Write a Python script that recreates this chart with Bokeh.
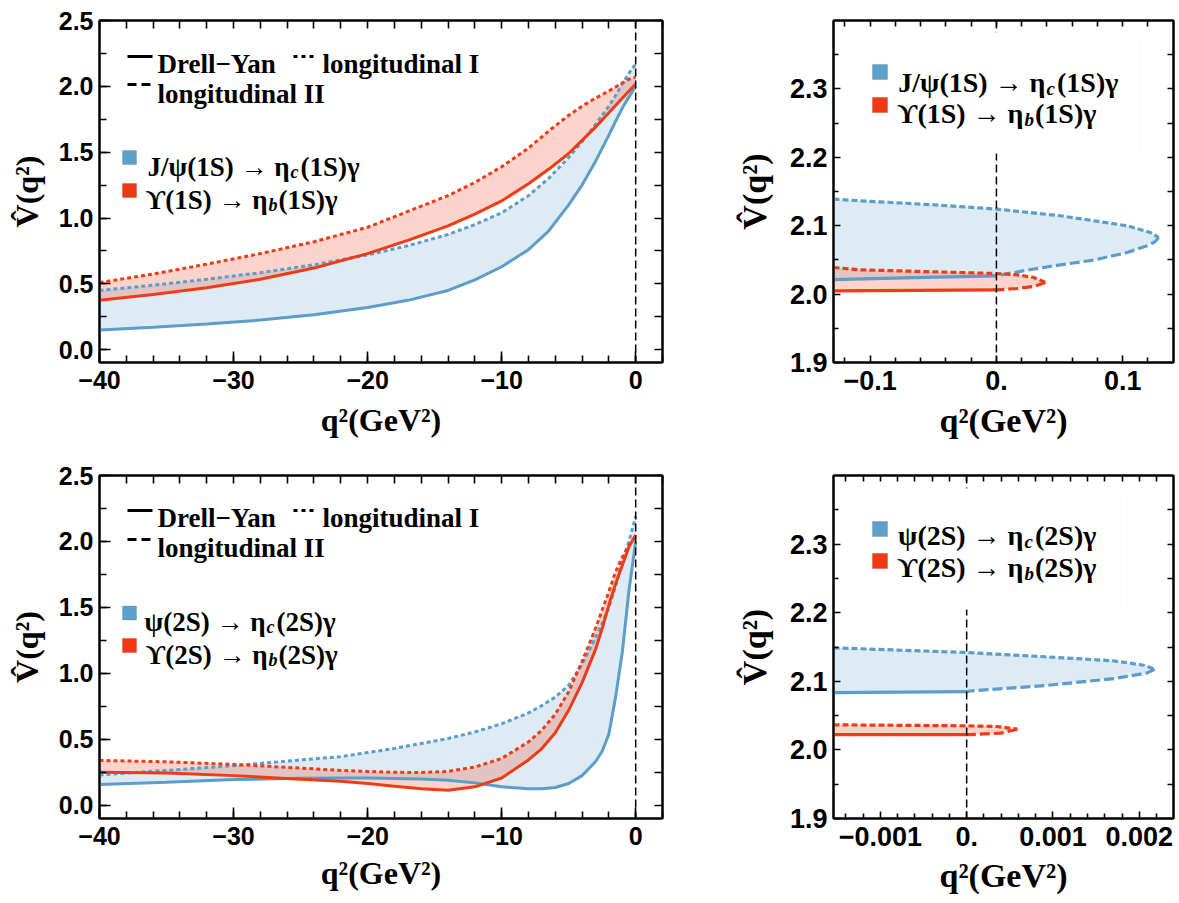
from bokeh.plotting import figure
from bokeh.models import (Range1d, FixedTicker, LinearAxis, Span, Label,
                          BoxAnnotation, Arrow)
from bokeh.layouts import row, column
from bokeh.embed import file_html
from bokeh.resources import INLINE

# ---------------- data ----------------
# 1S, wide range
q_1S = [-40, -36, -32, -28, -24, -20, -17, -14, -12, -10, -8, -6.5, -5, -4, -3, -2, -1.5, -1, -0.5, 0]
jpsi_dy_1S = [0.15, 0.17, 0.195, 0.225, 0.265, 0.32, 0.375, 0.45, 0.53, 0.63, 0.76, 0.90, 1.10, 1.25, 1.43, 1.63, 1.735, 1.835, 1.92, 2.00]
jpsi_l1_1S = [0.45, 0.49, 0.535, 0.585, 0.645, 0.72, 0.79, 0.875, 0.95, 1.04, 1.17, 1.30, 1.46, 1.58, 1.71, 1.85, 1.93, 2.02, 2.10, 2.17]
ups_dy_1S = [0.375, 0.42, 0.47, 0.535, 0.62, 0.73, 0.83, 0.94, 1.03, 1.13, 1.26, 1.37, 1.49, 1.59, 1.69, 1.80, 1.855, 1.91, 1.965, 2.02]
ups_l1_1S = [0.51, 0.575, 0.65, 0.73, 0.82, 0.93, 1.05, 1.17, 1.27, 1.39, 1.53, 1.66, 1.78, 1.85, 1.91, 1.965, 1.995, 2.025, 2.055, 2.07]

# 2S, wide range
q_2S = [-40, -35, -30, -25, -22, -20, -18, -16, -14, -12, -10, -8, -7, -6, -5, -4, -3, -2.5, -2, -1.5, -1, -0.5, 0]
psi_dy_2S = [0.157, 0.175, 0.195, 0.205, 0.207, 0.207, 0.204, 0.20, 0.19, 0.17, 0.14, 0.125, 0.125, 0.135, 0.165, 0.225, 0.33, 0.41, 0.54, 0.82, 1.16, 1.63, 2.00]
psi_l1_2S = [0.23, 0.265, 0.30, 0.344, 0.369, 0.40, 0.431, 0.469, 0.506, 0.556, 0.618, 0.70, 0.756, 0.82, 0.91, 1.07, 1.27, 1.38, 1.50, 1.66, 1.85, 2.00, 2.19]
ups_dy_2S = [0.25, 0.245, 0.225, 0.198, 0.182, 0.165, 0.145, 0.125, 0.115, 0.14, 0.207, 0.344, 0.43, 0.55, 0.72, 0.93, 1.18, 1.34, 1.52, 1.68, 1.82, 1.96, 2.05]
ups_l1_2S = [0.34, 0.33, 0.31, 0.282, 0.264, 0.257, 0.25, 0.249, 0.257, 0.29, 0.355, 0.48, 0.57, 0.69, 0.86, 1.09, 1.34, 1.48, 1.62, 1.77, 1.88, 1.97, 2.04]

# 1S, zoom near q^2 = 0
jpsi_l1_q_z1 = [-0.129, -0.1077, -0.05, 0.0, 0.0507, 0.1035, 0.1219, 0.1285]
jpsi_l1_v_z1 = [2.1389, 2.1364, 2.1306, 2.1243, 2.1145, 2.0999, 2.0900, 2.0827]
jpsi_l2_q_z1 = [0.1285, 0.1255, 0.1193, 0.1035, 0.077, 0.0507, 0.0243, 0.0]
jpsi_l2_v_z1 = [2.0827, 2.0765, 2.0706, 2.0608, 2.0497, 2.0428, 2.0350, 2.0268]
jpsi_dy_q_z1 = [-0.129, -0.0645, 0.0]
jpsi_dy_v_z1 = [2.0213, 2.0240, 2.0265]
ups_l1_q_z1 = [-0.129, -0.1077, 0.0, 0.0164, 0.0296, 0.0388]
ups_l1_v_z1 = [2.0389, 2.0355, 2.0301, 2.0282, 2.0243, 2.0170]
ups_l2_q_z1 = [0.0388, 0.0296, 0.0164, 0.0]
ups_l2_v_z1 = [2.0170, 2.0111, 2.0082, 2.0063]
ups_dy_q_z1 = [-0.129, 0.0]
ups_dy_v_z1 = [2.0048, 2.0063]

# 2S, zoom near q^2 = 0
psi_l1_q_z2 = [-0.001543, 0.0, 0.000934, 0.001707, 0.002054, 0.002178]
psi_l1_v_z2 = [2.1488, 2.1420, 2.1356, 2.1298, 2.1234, 2.1176]
psi_l2_q_z2 = [0.002178, 0.002093, 0.001707, 0.000934, 0.000046, 0.0]
psi_l2_v_z2 = [2.1176, 2.1122, 2.1039, 2.0941, 2.0859, 2.0849]
psi_dy_q_z2 = [-0.001543, 0.0]
psi_dy_v_z2 = [2.0834, 2.0849]
ups_l1_q_z2 = [-0.001543, 0.0, 0.000355, 0.000587]
ups_l1_v_z2 = [2.0366, 2.0351, 2.0341, 2.0302]
ups_l2_q_z2 = [0.000587, 0.000394, 0.000046, 0.0]
ups_l2_v_z2 = [2.0302, 2.0244, 2.0224, 2.0224]
ups_dy_q_z2 = [-0.001543, 0.0]
ups_dy_v_z2 = [2.0224, 2.0224]

# ticks and tick labels
wide_x_ticks = [-40, -30, -20, -10, 0]
wide_x_labels = ["\u221240", "\u221230", "\u221220", "\u221210", "0"]
wide_x_minor = [-40 + 2 * i for i in range(22)]
wide_y_ticks = [0.0, 0.5, 1.0, 1.5, 2.0, 2.5]
wide_y_labels = ["0.0", "0.5", "1.0", "1.5", "2.0", "2.5"]
wide_y_minor = [0.25 * i for i in range(11)]

z1_x_ticks = [-0.1, 0.0, 0.1]
z1_x_labels = ["\u22120.1", "0.", "0.1"]
z1_x_minor = [-0.12, -0.08, -0.06, -0.04, -0.02, 0.02, 0.04, 0.06, 0.08, 0.12]
z2_x_ticks = [-0.001, 0.0, 0.001, 0.002]
z2_x_labels = ["\u22120.001", "0.", "0.001", "0.002"]
z2_x_minor = [-0.0014, -0.0012, -0.0008, -0.0006, -0.0004, -0.0002, 0.0002, 0.0004,
              0.0006, 0.0008, 0.0012, 0.0014, 0.0016, 0.0018, 0.0022, 0.0024]
z_y_ticks = [1.9, 2.0, 2.1, 2.2, 2.3]
z_y_labels = ["1.9", "2.0", "2.1", "2.2", "2.3"]
z_y_minor = [1.95, 2.05, 2.15, 2.25, 2.35]

X_TITLE = "q\u00b2(GeV\u00b2)"
Y_TITLE = "V\u0302(q\u00b2)"
UPS = "\u03d2"

BLUE = "#5C9DCA"
RED = "#F03C16"
SERIF = "Liberation Serif"
SANS = "Liberation Sans"


def make_fig(width, height, borders, xr, yr, xt, xl, xm, yt, yl, ym, tick_size, maj_in, min_in,
             mirror_in, title_size, xs_off, ys_off):
    lft, rgt, top, bot = borders
    p = figure(width=width, height=height, x_range=Range1d(*xr), y_range=Range1d(*yr),
               output_backend="svg", toolbar_location=None,
               min_border_left=lft, min_border_right=rgt, min_border_top=top, min_border_bottom=bot)
    p.xgrid.visible = False
    p.ygrid.visible = False
    p.outline_line_color = "black"
    p.outline_line_width = 2
    p.background_fill_color = "white"
    p.border_fill_color = "white"

    def style(ax, ticks, labels, minor):
        ax.ticker = FixedTicker(ticks=ticks, minor_ticks=minor)
        ax.major_tick_in = maj_in
        ax.major_tick_out = 0
        ax.minor_tick_in = min_in
        ax.minor_tick_out = 0
        ax.axis_line_width = 2
        ax.major_tick_line_width = 1.6
        ax.minor_tick_line_width = 1.6
        ax.axis_line_color = "black"
        ax.major_tick_line_color = "black"
        ax.minor_tick_line_color = "black"
        ax.major_label_overrides = dict(zip(ticks, labels))
        ax.major_label_text_font = SANS
        ax.major_label_text_font_style = "bold"
        ax.major_label_text_font_size = f"{tick_size}px"
        ax.major_label_text_color = "black"
        ax.axis_label_text_font = SERIF
        ax.axis_label_text_font_style = "bold"
        ax.axis_label_text_font_size = f"{title_size}px"
        ax.axis_label_text_color = "black"

    def mirror(ticks, minor):
        # frame ticks on the opposite side: no labels, all ticks drawn as plain tick marks
        ax = LinearAxis(ticker=FixedTicker(ticks=[], minor_ticks=list(ticks) + list(minor)))
        ax.minor_tick_in = mirror_in
        ax.minor_tick_out = 0
        ax.major_tick_in = 0
        ax.major_tick_out = 0
        ax.minor_tick_line_width = 1.6
        ax.minor_tick_line_color = "black"
        ax.axis_line_width = 2
        ax.axis_line_color = "black"
        ax.major_label_standoff = 0
        return ax

    style(p.xaxis[0], xt, xl, xm)
    p.xaxis[0].major_label_standoff = 8
    p.xaxis[0].axis_label = X_TITLE
    p.xaxis[0].axis_label_standoff = xs_off
    style(p.yaxis[0], yt, yl, ym)
    p.yaxis[0].major_label_standoff = 6
    p.yaxis[0].axis_label = Y_TITLE
    p.yaxis[0].axis_label_standoff = ys_off
    p.add_layout(mirror(xt, xm), "above")
    p.add_layout(mirror(yt, ym), "right")
    return p


def lbl(p, x, y, text, size, style="bold", font=SERIF, align="left", baseline="alphabetic"):
    p.add_layout(Label(x=x, y=y, x_units="screen", y_units="screen", text=text,
                       text_font=font, text_font_size=f"{size}px", text_font_style=style,
                       text_align=align, text_baseline=baseline, text_color="black"))


def style_legend(p, rows, size):
    (y1, yb1, y2, yb2) = rows
    p.add_layout(Arrow(end=None, x_start=28, y_start=y1, x_end=53, y_end=y1, start_units="screen",
                       end_units="screen", line_color="black", line_width=3))
    lbl(p, 58, yb1, "Drell\u2212Yan", size)
    p.add_layout(Arrow(end=None, x_start=194, y_start=y1, x_end=214, y_end=y1, start_units="screen",
                       end_units="screen", line_color="black", line_width=3, line_dash="4 4"))
    lbl(p, 223, yb1, "longitudinal I", size)
    p.add_layout(Arrow(end=None, x_start=28, y_start=y2, x_end=51, y_end=y2, start_units="screen",
                       end_units="screen", line_color="black", line_width=3, line_dash="9 5"))
    lbl(p, 58, yb2, "longitudinal II", size)


def square(p, l, b, s, fill, edge):
    p.add_layout(BoxAnnotation(left=l, right=l + s, bottom=b, top=b + s, left_units="screen",
                               right_units="screen", bottom_units="screen", top_units="screen",
                               fill_color=fill, fill_alpha=1.0, line_color=edge, line_width=1))


def entry(p, xs, yb, head, sub, tail, size, subsize):
    lbl(p, xs, yb, head, size, "bold", align="right")
    lbl(p, xs + 1, yb - 0.22 * size, sub, subsize, "bold italic", align="left")
    lbl(p, xs + 0.5 * subsize + 2, yb, tail, size, "bold", align="left")


def zero_line(p):
    p.add_layout(Span(location=0, dimension="height", line_color="black", line_width=1.5,
                      line_dash="8 4"))


def legend_box(p, right):
    p.add_layout(BoxAnnotation(left=17, right=right, bottom=209, top=330, left_units="screen",
                               right_units="screen", bottom_units="screen", top_units="screen",
                               fill_color="white", fill_alpha=1.0, line_color="#f6f6f6", line_width=1))


# ---------------- top-left ----------------
tl = make_fig(700, 452, (99, 38, 19, 86), (-40, 2), (-0.097, 2.5),
              wide_x_ticks, wide_x_labels, wide_x_minor, wide_y_ticks, wide_y_labels, wide_y_minor,
              25, 11, 7, 8, 32, 10, 11)
tl.varea(x=q_1S, y1=jpsi_dy_1S, y2=jpsi_l1_1S, fill_color=BLUE, fill_alpha=0.2)
tl.varea(x=q_1S, y1=ups_dy_1S, y2=ups_l1_1S, fill_color=RED, fill_alpha=0.22)
tl.line(q_1S, jpsi_dy_1S, line_color=BLUE, line_width=3)
tl.line(q_1S, jpsi_l1_1S, line_color=BLUE, line_width=3, line_dash="4 3")
tl.line(q_1S, ups_dy_1S, line_color=RED, line_width=3)
tl.line(q_1S, ups_l1_1S, line_color=RED, line_width=3, line_dash="4 3")
zero_line(tl)
style_legend(tl, (306, 299, 278, 269), 27)
square(tl, 23, 198, 14, "#5E9FCC", "#4A84B0")
square(tl, 23, 165, 14, "#EE3A14", "#C02E0E")
entry(tl, 190, 196, "J/\u03c8(1S) \u2192 \u03b7", "c", "(1S)\u03b3", 27, 18)
entry(tl, 168, 163, UPS + "(1S) \u2192 \u03b7", "b", "(1S)\u03b3", 27, 18)

# ---------------- top-right ----------------
tr = make_fig(479, 452, (133, 6, 20, 90), (-0.129, -0.129 + 340 / 1263.0), (1.9, 2.4),
              z1_x_ticks, z1_x_labels, z1_x_minor, z_y_ticks, z_y_labels, z_y_minor,
              27, 7, 5, 6, 34, 9, 14)
tr.patch(jpsi_l1_q_z1 + jpsi_l2_q_z1 + jpsi_dy_q_z1[::-1], jpsi_l1_v_z1 + jpsi_l2_v_z1 + jpsi_dy_v_z1[::-1],
         fill_color=BLUE, fill_alpha=0.2, line_alpha=0)
tr.patch(ups_l1_q_z1 + ups_l2_q_z1 + ups_dy_q_z1[::-1], ups_l1_v_z1 + ups_l2_v_z1 + ups_dy_v_z1[::-1],
         fill_color=RED, fill_alpha=0.22, line_alpha=0)
tr.line(jpsi_dy_q_z1, jpsi_dy_v_z1, line_color=BLUE, line_width=3.2)
tr.line(jpsi_l1_q_z1, jpsi_l1_v_z1, line_color=BLUE, line_width=3.2, line_dash="6 3")
tr.line(jpsi_l2_q_z1, jpsi_l2_v_z1, line_color=BLUE, line_width=3.2, line_dash="10 4")
tr.line(ups_dy_q_z1, ups_dy_v_z1, line_color=RED, line_width=3.2)
tr.line(ups_l1_q_z1, ups_l1_v_z1, line_color=RED, line_width=3.2, line_dash="6 3")
tr.line(ups_l2_q_z1, ups_l2_v_z1, line_color=RED, line_width=3.2, line_dash="10 4")
zero_line(tr)
legend_box(tr, 307)
square(tr, 39, 283, 15, "#5E9FCC", "#4A84B0")
square(tr, 39, 250, 15, "#EE3A14", "#C02E0E")
entry(tr, 212, 280, "J/\u03c8(1S) \u2192 \u03b7", "c", "(1S)\u03b3", 28, 19)
entry(tr, 190, 249, UPS + "(1S) \u2192 \u03b7", "b", "(1S)\u03b3", 28, 19)

# ---------------- bottom-left ----------------
bl = make_fig(700, 450, (99, 38, 23, 79), (-40, 2), (-0.1, 2.5),
              wide_x_ticks, wide_x_labels, wide_x_minor, wide_y_ticks, wide_y_labels, wide_y_minor,
              25, 11, 7, 8, 32, 7, 11)
bl.varea(x=q_2S, y1=psi_dy_2S, y2=psi_l1_2S, fill_color=BLUE, fill_alpha=0.2)
bl.varea(x=q_2S, y1=ups_dy_2S, y2=ups_l1_2S, fill_color=RED, fill_alpha=0.22)
bl.line(q_2S, psi_dy_2S, line_color=BLUE, line_width=3)
bl.line(q_2S, psi_l1_2S, line_color=BLUE, line_width=3, line_dash="4 3")
bl.line(q_2S, ups_dy_2S, line_color=RED, line_width=3)
bl.line(q_2S, ups_l1_2S, line_color=RED, line_width=3, line_dash="4 3")
zero_line(bl)
style_legend(bl, (308, 301, 279, 271), 27)
square(bl, 23, 198.5, 14, "#5E9FCC", "#4A84B0")
square(bl, 23, 166, 14, "#EE3A14", "#C02E0E")
entry(bl, 166, 197, "\u03c8(2S) \u2192 \u03b7", "c", "(2S)\u03b3", 27, 18)
entry(bl, 168, 164, UPS + "(2S) \u2192 \u03b7", "b", "(2S)\u03b3", 27, 18)

# ---------------- bottom-right ----------------
br = make_fig(479, 450, (133, 6, 23, 84), (-0.001543, -0.001543 + 340 / 86300.0), (1.9, 2.4),
              z2_x_ticks, z2_x_labels, z2_x_minor, z_y_ticks, z_y_labels, z_y_minor,
              27, 7, 5, 6, 34, 8, 14)
br.patch(psi_l1_q_z2 + psi_l2_q_z2 + psi_dy_q_z2[::-1], psi_l1_v_z2 + psi_l2_v_z2 + psi_dy_v_z2[::-1],
         fill_color=BLUE, fill_alpha=0.2, line_alpha=0)
br.patch(ups_l1_q_z2 + ups_l2_q_z2 + ups_dy_q_z2[::-1], ups_l1_v_z2 + ups_l2_v_z2 + ups_dy_v_z2[::-1],
         fill_color=RED, fill_alpha=0.22, line_alpha=0)
br.line(psi_dy_q_z2, psi_dy_v_z2, line_color=BLUE, line_width=3.2)
br.line(psi_l1_q_z2, psi_l1_v_z2, line_color=BLUE, line_width=3.2, line_dash="6 3")
br.line(psi_l2_q_z2, psi_l2_v_z2, line_color=BLUE, line_width=3.2, line_dash="10 4")
br.line(ups_dy_q_z2, ups_dy_v_z2, line_color=RED, line_width=3.2)
br.line(ups_l1_q_z2, ups_l1_v_z2, line_color=RED, line_width=3.2, line_dash="6 3")
br.line(ups_l2_q_z2, ups_l2_v_z2, line_color=RED, line_width=3.2, line_dash="10 4")
zero_line(br)
legend_box(br, 287)
square(br, 39, 282, 15, "#5E9FCC", "#4A84B0")
square(br, 39, 250, 15, "#EE3A14", "#C02E0E")
entry(br, 190, 283, "\u03c8(2S) \u2192 \u03b7", "c", "(2S)\u03b3", 28, 19)
entry(br, 190, 251, UPS + "(2S) \u2192 \u03b7", "b", "(2S)\u03b3", 28, 19)

layout = column(row(tl, tr), row(bl, br))
open("out.html", "w").write(file_html(layout, INLINE))
